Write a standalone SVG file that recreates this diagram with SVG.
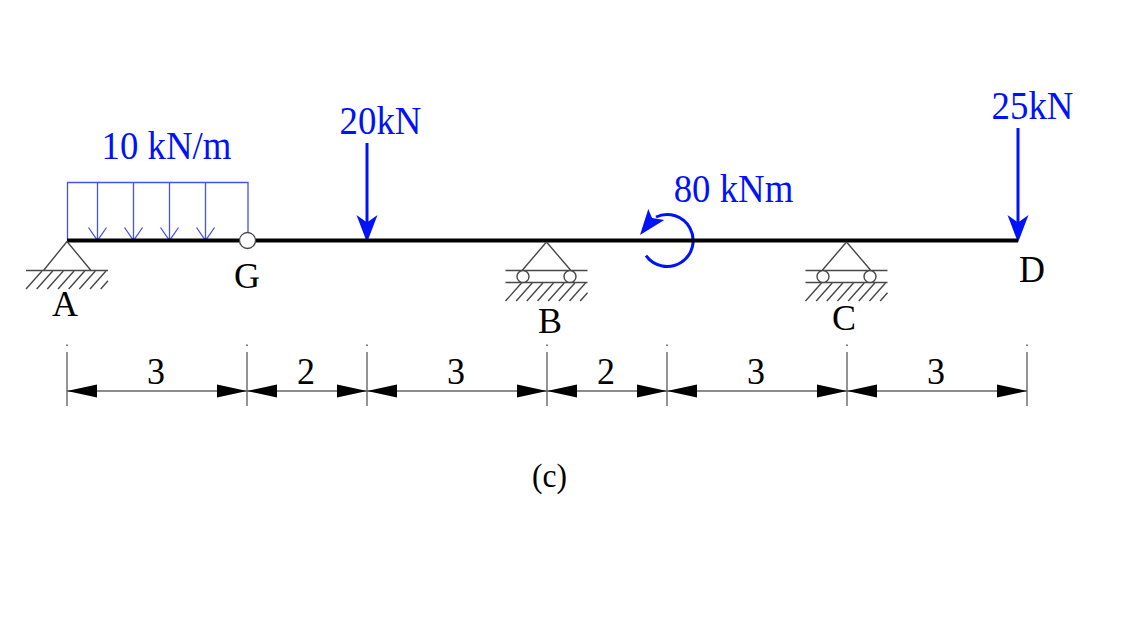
<svg xmlns="http://www.w3.org/2000/svg" width="1148" height="636" viewBox="0 0 1148 636">
<style>
text{font-family:"Liberation Serif","Times New Roman",serif;text-anchor:middle}
.blue{fill:#0012fa;font-size:36.8px}
.blk{fill:#000;font-size:36px}
.g{fill:none;stroke:#484848;stroke-width:1.4}
.dim{fill:none;stroke:#666;stroke-width:1.4}
.q{fill:none;stroke:#4452f5;stroke-width:1.3}
.force{fill:none;stroke:#0012fa;stroke-width:3}
.head{fill:#0012fa;stroke:none}
.ah{fill:#000;stroke:none}
</style>
<defs>
<g id="hatch" class="g">
<path d="M0 18L16 0M10.700 18L26.700 0M21.300 18L37.300 0M32 18L48 0M42.700 18L58.700 0M53.300 18L69.300 0M64 18L80 0M74.700 18L82 9.800"/>
</g>
<g id="qa" class="q"><path d="M0 -58V0M-9 -13L0 0L9 -13"/></g>
<g id="da"><path class="ah" d="M0 0L30 -6.500V6.500Z"/></g>
<g id="da2"><path class="ah" d="M0 0L-30 -6.500V6.500Z"/></g>
<g id="tick" class="dim"><path d="M0 352V406"/><path d="M0 344.500V346" stroke="#444"/></g>
<path id="fh" class="head" d="M0 0L-10.500 -27.500L0 -20L10.500 -27.500Z"/>
<g id="roller" class="g">
<path d="M0 0L-24 28M0 0L24 28M-41 28.500H41M-41 40.500H41"/>
<circle cx="-23.500" cy="34.500" r="6" fill="#fff"/>
<circle cx="23.500" cy="34.500" r="6" fill="#fff"/>
<use href="#hatch" x="-41" y="41"/>
</g>
</defs>

<g id="connectors">
<g id="load">
<path class="q" d="M67.500 241V182.500H248V233"/>
<use href="#qa" x="97.500" y="240.500"/>
<use href="#qa" x="133.500" y="240.500"/>
<use href="#qa" x="169.500" y="240.500"/>
<use href="#qa" x="205.500" y="240.500"/>
</g>
<g id="force-20"><path class="force" d="M367 143V225"/><use href="#fh" x="367" y="242.500"/></g>
<g id="force-25"><path class="force" d="M1018 128V225"/><use href="#fh" x="1018" y="242.500"/></g>
<g id="moment">
<path class="force" d="M646 255.700A26 26 0 1 0 656 217"/>
<path class="head" d="M640 235L648.300 209L652 218L664.300 220Z"/>
</g>
<g id="dimensions">
<path class="dim" d="M67 391H1027"/>
<use href="#tick" x="67"/><use href="#tick" x="247"/><use href="#tick" x="367"/><use href="#tick" x="547"/><use href="#tick" x="667"/><use href="#tick" x="847"/><use href="#tick" x="1027"/>
<use href="#da" x="67" y="391"/><use href="#da2" x="247" y="391"/>
<use href="#da" x="247" y="391"/><use href="#da2" x="367" y="391"/>
<use href="#da" x="367" y="391"/><use href="#da2" x="547" y="391"/>
<use href="#da" x="547" y="391"/><use href="#da2" x="667" y="391"/>
<use href="#da" x="667" y="391"/><use href="#da2" x="847" y="391"/>
<use href="#da" x="847" y="391"/><use href="#da2" x="1027" y="391"/>
</g>
</g>

<g id="beam"><path d="M67 240.500H1018" fill="none" stroke="#000" stroke-width="4"/></g>
<g id="node-A">
<path class="g" d="M67 241.500L43.500 270.500M67 241.500L91 270.500M26 270.500H108"/>
<use href="#hatch" x="26" y="271"/>
<text class="blk" transform="translate(65 316)">A</text>
</g>
<g id="node-G">
<circle cx="247.500" cy="240.500" r="8" fill="#fff" stroke="#484848" stroke-width="1.300"/>
<text class="blk" transform="translate(247 288)">G</text>
</g>
<g id="node-B">
<use href="#roller" x="546.500" y="242"/>
<text class="blk" transform="translate(550 333)">B</text>
</g>
<g id="node-C">
<use href="#roller" x="846.500" y="242"/>
<text class="blk" transform="translate(844 329.500)">C</text>
</g>
<g id="node-D"><text class="blk" transform="translate(1032 282) scale(1 1.08)">D</text></g>

<g id="labels">
<text class="blue" transform="translate(166.500 159) scale(1 1.09)">10 kN/m</text>
<text class="blue" transform="translate(380.500 134) scale(1 1.09)">20kN</text>
<text class="blue" transform="translate(733.500 202) scale(1 1.09)">80 kNm</text>
<text class="blue" transform="translate(1032.500 119) scale(1 1.09)">25kN</text>
<text class="blk" transform="translate(156 383.500) scale(1 1.08)">3</text>
<text class="blk" transform="translate(306 383.500) scale(1 1.08)">2</text>
<text class="blk" transform="translate(456 383.500) scale(1 1.08)">3</text>
<text class="blk" transform="translate(606 383.500) scale(1 1.08)">2</text>
<text class="blk" transform="translate(756 383.500) scale(1 1.08)">3</text>
<text class="blk" transform="translate(936 383.500) scale(1 1.08)">3</text>
<text class="blk" transform="translate(549.500 487) scale(1 1.08)" style="font-size:31.500px">(c)</text>
</g>
</svg>
